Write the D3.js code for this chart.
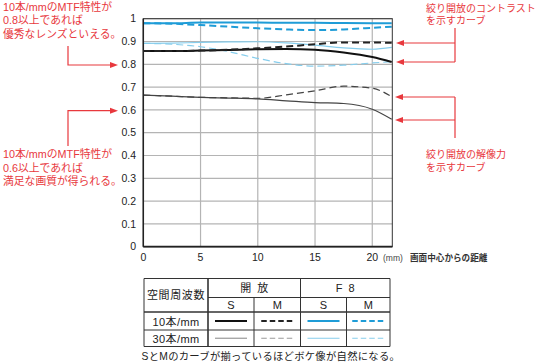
<!DOCTYPE html>
<html><head><meta charset="utf-8">
<script src="https://cdn.jsdelivr.net/npm/d3@7"></script>
<style>
html,body{margin:0;padding:0;background:#fff;}
svg{display:block;}
.jp{font-family:"Liberation Sans","Noto Sans CJK JP",sans-serif;}
.num{font-family:"Liberation Sans",Arial,sans-serif;}
</style></head>
<body>
<svg id="c" width="540" height="363"></svg>
<script>
// ---- data ----
const xs = [0, 2.5, 5, 7.5, 10, 12.5, 15, 17.5, 20, 21.7];
const open10S = [0.858, 0.858, 0.860, 0.863, 0.866, 0.867, 0.864, 0.852, 0.832, 0.810];
const open10M = [0.858, 0.858, 0.860, 0.864, 0.870, 0.878, 0.888, 0.896, 0.896, 0.894];
const open30S = [0.665, 0.660, 0.655, 0.652, 0.648, 0.640, 0.632, 0.628, 0.603, 0.559];
const open30M = [0.665, 0.660, 0.655, 0.653, 0.651, 0.666, 0.684, 0.704, 0.695, 0.658];
const f8_10S = [0.980, 0.980, 0.983, 0.983, 0.983, 0.982, 0.982, 0.981, 0.980, 0.980];
const f8_10M = [0.980, 0.978, 0.972, 0.965, 0.958, 0.953, 0.950, 0.953, 0.960, 0.965];
const f8_30S = [0.892, 0.893, 0.896, 0.898, 0.899, 0.894, 0.884, 0.872, 0.866, 0.874];
const f8_30M = [0.892, 0.888, 0.877, 0.855, 0.826, 0.803, 0.792, 0.796, 0.806, 0.811];
const yTicks = [0, 0.1, 0.2, 0.3, 0.4, 0.5, 0.6, 0.7, 0.8, 0.9, 1];
const yTickLabels = ["0", "0.1", "0.2", "0.3", "0.4", "0.5", "0.6", "0.7", "0.8", "0.9", "1"];
const xTicks = [0, 5, 10, 15, 20];
const xUnit = "(mm)";
const xTitle = "画面中心からの距離";
const noteTopLeft = ["10本/mmのMTF特性が", "0.8以上であれば", "優秀なレンズといえる。"];
const noteBottomLeft = ["10本/mmのMTF特性が", "0.6以上であれば", "満足な画質が得られる。"];
const noteTopRight = ["絞り開放のコントラスト", "を示すカーブ"];
const noteBottomRight = ["絞り開放の解像力", "を示すカーブ"];
const tableRowHeader = "空間周波数";
const tableGroups = ["開放", "F8"];
const tableSub = ["S", "M", "S", "M"];
const tableRows = ["10本/mm", "30本/mm"];
const caption = "SとMのカーブが揃っているほどボケ像が自然になる。";

// ---- styles ----
const RED = "#e8383d";
const seriesStyle = [
  {d: f8_10S, c: "#1e9cd7", w: 2, dash: null},
  {d: f8_10M, c: "#1e9cd7", w: 2, dash: "7,4"},
  {d: f8_30S, c: "#86cdec", w: 1.2, dash: null},
  {d: f8_30M, c: "#86cdec", w: 1.2, dash: "7,4"},
  {d: open30S, c: "#444", w: 1.2, dash: null},
  {d: open30M, c: "#444", w: 1.2, dash: "7,4"},
  {d: open10S, c: "#111", w: 2, dash: null},
  {d: open10M, c: "#222", w: 2, dash: "7,4"}
];

const svg = d3.select("#c");
const L = 143.3, R = 392.3, T = 18.7, B = 246.7;
const x = d3.scaleLinear().domain([0, 21.75]).range([L, R]);
const y = d3.scaleLinear().domain([0, 1]).range([B, T]);

// grid
svg.append("g").selectAll("line").data(yTicks).join("line")
  .attr("x1", L).attr("x2", R).attr("y1", d => y(d)).attr("y2", d => y(d))
  .attr("stroke", "#b4b4b4").attr("stroke-width", 1.2);
svg.append("g").selectAll("line").data(xTicks.filter(d => d > 0)).join("line")
  .attr("x1", d => x(d)).attr("x2", d => x(d)).attr("y1", T).attr("y2", B)
  .attr("stroke", "#b4b4b4").attr("stroke-width", 1.2);

// curves
const line = d3.line().x(d => x(d[0])).y(d => y(d[1])).curve(d3.curveMonotoneX);
seriesStyle.forEach(s => {
  svg.append("path").attr("d", line(xs.map((v, i) => [v, s.d[i]])))
    .attr("fill", "none").attr("stroke", s.c).attr("stroke-width", s.w)
    .attr("stroke-dasharray", s.dash);
});

// frame
svg.append("rect").attr("x", L).attr("y", T).attr("width", R - L).attr("height", B - T)
  .attr("fill", "none").attr("stroke", "#333").attr("stroke-width", 1);
svg.append("line").attr("x1", L).attr("x2", L).attr("y1", T).attr("y2", B).attr("stroke", "#222").attr("stroke-width", 1.5);
svg.append("line").attr("x1", L).attr("x2", R).attr("y1", B).attr("y2", B).attr("stroke", "#222").attr("stroke-width", 1.8);

// tick labels
svg.append("g").selectAll("text").data(yTicks).join("text").attr("class", "num")
  .attr("x", 136).attr("y", d => y(d)).attr("dy", "0.36em").attr("text-anchor", "end")
  .attr("font-size", 10.5).attr("fill", "#222").text((d, i) => yTickLabels[i]);
svg.append("g").selectAll("text").data(xTicks).join("text").attr("class", "num")
  .attr("x", d => x(d)).attr("y", 261).attr("text-anchor", "middle")
  .attr("font-size", 10.5).attr("fill", "#222").text(d => d);
svg.append("text").attr("class", "num").attr("x", 383).attr("y", 260.5)
  .attr("font-size", 8.5).attr("fill", "#444").text(xUnit);
svg.append("text").attr("class", "jp").attr("x", 410).attr("y", 260.5)
  .attr("font-size", 8.6).attr("fill", "#333").attr("font-weight", "bold").text(xTitle);

// annotations
function note(lines, x0, y0, lh, fs) {
  const t = svg.append("text").attr("class", "jp").attr("fill", RED).attr("font-size", fs);
  lines.forEach((s, i) => t.append("tspan").attr("x", x0).attr("y", y0 + i * lh).text(s));
}
note(noteTopLeft, 3, 11, 13.4, 10.8);
note(noteBottomLeft, 3, 158, 13.6, 10.8);
note(noteTopRight, 426, 11.5, 12.8, 10);
note(noteBottomRight, 426, 158, 12.5, 10);

function arrowHead(tx, ty, dir) { // dir 1 = points right, -1 = left
  svg.append("path").attr("d", `M${tx},${ty} L${tx - dir * 8},${ty - 3} L${tx - dir * 8},${ty + 3} Z`).attr("fill", RED);
}
function poly(pts) {
  svg.append("path").attr("d", d3.line()(pts)).attr("fill", "none").attr("stroke", RED).attr("stroke-width", 1.2);
}
// left top
poly([[68, 46], [68, 65], [112, 65]]); arrowHead(118, 65, 1);
// left bottom
poly([[68, 146], [68, 110.7], [112, 110.7]]); arrowHead(118, 110.7, 1);
// right top
poly([[455, 28], [455, 62]]);
poly([[455, 43], [403, 43]]); arrowHead(396, 43, -1);
poly([[455, 62], [403, 62]]); arrowHead(396, 62, -1);
// right bottom
poly([[455, 97], [455, 138]]);
poly([[455, 97], [402, 97]]); arrowHead(395, 97, -1);
poly([[455, 120], [402, 120]]); arrowHead(395, 120, -1);

// ---- table ----
const cols = [144, 208, 254, 300.5, 346.5, 390];
const rws = [278.5, 297.5, 312, 330, 346.5];
const tg = svg.append("g");
const tl = (x1, y1, x2, y2, w) => tg.append("line").attr("x1", x1).attr("y1", y1).attr("x2", x2).attr("y2", y2).attr("stroke", "#333").attr("stroke-width", w || 1);
tl(cols[0], rws[0], cols[5], rws[0]);
tl(cols[1], rws[1], cols[5], rws[1]);
tl(cols[0], rws[2], cols[5], rws[2], 1.6);
tl(cols[0], rws[3], cols[5], rws[3]);
tl(cols[0], rws[4], cols[5], rws[4]);
tl(cols[0], rws[0], cols[0], rws[4]);
tl(cols[5], rws[0], cols[5], rws[4]);
tl(cols[1], rws[0], cols[1], rws[4], 1.6);
tl(cols[3], rws[0], cols[3], rws[4]);
tl(cols[2], rws[1], cols[2], rws[4]);
tl(cols[4], rws[1], cols[4], rws[4]);

const tt = (s, cx, by, ls) => tg.append("text").attr("class", "jp").attr("x", cx).attr("y", by)
  .attr("text-anchor", "middle").attr("font-size", 11).attr("fill", "#222")
  .attr("letter-spacing", ls || 0).text(s);
tt(tableRowHeader, (cols[0] + cols[1]) / 2, 299, 0.6);
tt(tableGroups[0], (cols[1] + cols[3]) / 2 + 3, 292, 6);
tt(tableGroups[1], (cols[3] + cols[5]) / 2 + 3, 292, 6);
tableSub.forEach((s, i) => tt(s, (cols[i + 1] + cols[i + 2]) / 2, 308.5));
tableRows.forEach((s, i) => tt(s, (cols[0] + cols[1]) / 2, 325.5 + i * 17, 0.4));

const legendOrder = [[open10S, open10M, f8_10S, f8_10M], [open30S, open30M, f8_30S, f8_30M]];
legendOrder.forEach((row, ri) => {
  row.forEach((arr, ci) => {
    const s = seriesStyle.find(st => st.d === arr);
    const cx = (cols[ci + 1] + cols[ci + 2]) / 2;
    const cy = (rws[ri + 2] + rws[ri + 3]) / 2;
    let c = s.c;
    if (arr === open30S || arr === open30M) c = "#999";
    tg.append("line").attr("x1", cx - 16).attr("x2", cx + 16).attr("y1", cy).attr("y2", cy)
      .attr("stroke", c).attr("stroke-width", s.w === 2 ? 2 : 1.2)
      .attr("stroke-dasharray", s.dash ? "5.5,3" : null);
  });
});

svg.append("text").attr("class", "jp").attr("x", 141.5).attr("y", 360)
  .attr("font-size", 10.3).attr("fill", "#222").attr("letter-spacing", 0.3).text(caption);
</script>
</body></html>
